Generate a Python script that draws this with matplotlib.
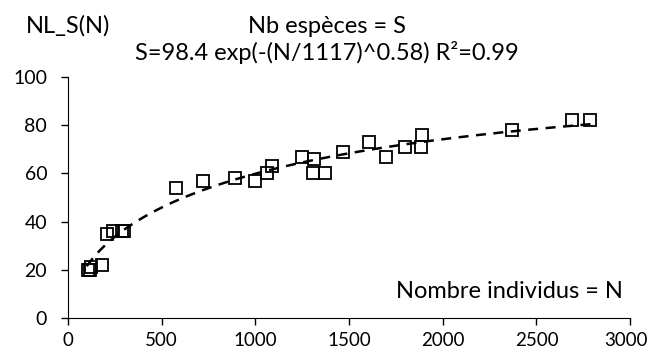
import numpy as np
import matplotlib
matplotlib.use('Agg')
import matplotlib.pyplot as plt
import matplotlib.transforms as mtransforms

plt.rcParams['font.family'] = ['Lato', 'DejaVu Sans']

# observed points (nombre individus, nb especes)
N_obs = [105, 115, 125, 180, 210, 240, 290, 300, 575, 719, 891, 998, 1061, 1091,
         1247, 1310, 1313, 1372, 1470, 1607, 1696, 1799, 1883, 1888, 2372, 2689, 2783]
S_obs = [20, 20, 21, 22, 35, 36, 36, 36, 54, 57, 58, 57, 60, 63,
         67, 60, 66, 60, 69, 73, 67, 71, 71, 76, 78, 82, 82]

# fitted model parameters from the title
S_max, N0, expo = 98.4, 1117, 0.58

fig = plt.figure(figsize=(6.51, 3.56), dpi=100)
ax = fig.add_axes([0.1045, 0.1067, 0.8635, 0.677])

Nfit = np.linspace(100, 2800, 300)
Sfit = S_max * (1 - np.exp(-(Nfit / N0) ** expo))
ax.plot(Nfit, Sfit, color='black', lw=1.8, ls=(0, (4, 3)))
ax.plot(N_obs, S_obs, ls='none', marker='s', ms=8.5, mfc='none', mec='black', mew=1.3)

ax.set_xlim(0, 3000)
ax.set_ylim(0, 100)
ax.set_xticks(range(0, 3001, 500))
ax.set_yticks(range(0, 101, 20))
ax.spines['top'].set_visible(False)
ax.spines['right'].set_visible(False)
ax.tick_params(labelsize=14, length=5, width=1)
ax.tick_params(axis='x', pad=5, labelsize=13.5)
ax.tick_params(axis='y', pad=10)

# nudge last x label so it stays inside the figure
last = ax.get_xticklabels()[-1]
last.set_transform(last.get_transform() + mtransforms.ScaledTranslation(-4 / 100, 0, fig.dpi_scale_trans))

fig.text(26 / 651, 1 - 33 / 356, 'NL_S(N)', fontsize=17, va='baseline', ha='left')
fig.text(327 / 651, 1 - 33 / 356, 'Nb espèces = S', fontsize=17, va='baseline', ha='center')
fig.text(327 / 651, 1 - 60 / 356, 'S=98.4 exp(-(N/1117)^0.58) R²=0.99', fontsize=17,
         va='baseline', ha='center')
ax.text(2963, 8.3, 'Nombre individus = N', fontsize=17, ha='right', va='baseline')

fig.savefig('out.png', dpi=100)
